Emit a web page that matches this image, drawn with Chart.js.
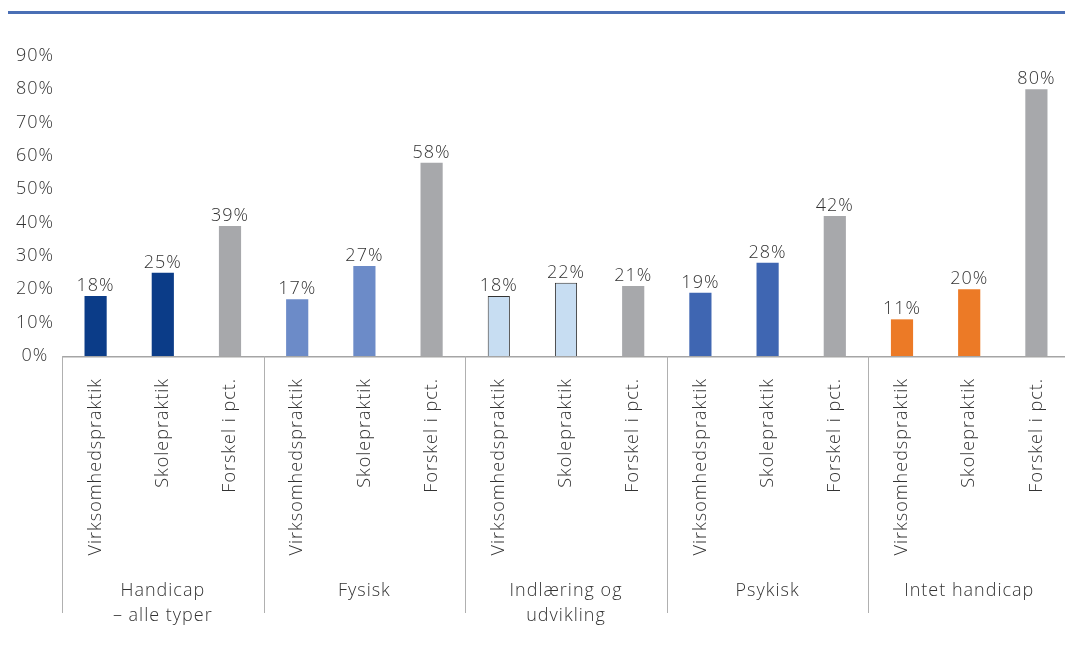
<!DOCTYPE html>
<html>
<head>
<meta charset="utf-8">
<script src="https://cdn.jsdelivr.net/npm/chart.js@4.4.1/dist/chart.umd.min.js"></script>
<style>
  html, body { margin: 0; padding: 0; background: #fff; overflow: hidden; }
  #wrap { position: relative; width: 1082px; height: 648px; }
  #topline { position: absolute; left: 8px; top: 11px; width: 1074px; height: 3px; background: #4A6FB5; }
  canvas { position: absolute; left: 0; top: 0; }
</style>
</head>
<body>
<div id="wrap">
  <div id="topline"></div>
  <canvas id="c" width="1082" height="648"></canvas>
</div>
<script>
const categories = [
  "Virksomhedspraktik", "Skolepraktik", "Forskel i pct.",
  "Virksomhedspraktik", "Skolepraktik", "Forskel i pct.",
  "Virksomhedspraktik", "Skolepraktik", "Forskel i pct.",
  "Virksomhedspraktik", "Skolepraktik", "Forskel i pct.",
  "Virksomhedspraktik", "Skolepraktik", "Forskel i pct."
];
const groups = [
  ["Handicap", "– alle typer"],
  ["Fysisk"],
  ["Indlæring og", "udvikling"],
  ["Psykisk"],
  ["Intet handicap"]
];
const values = [18, 25, 39, 17, 27, 58, 18, 22, 21, 19, 28, 42, 11, 20, 80];
const yTicks = [0, 10, 20, 30, 40, 50, 60, 70, 80, 90];

const groupColors = ["#0B3C88", "#6C8BC8", "#C7DDF2", "#3F66B2", "#EC7A26"];
const grey = "#A7A8AB";
const barColors = values.map((v, i) => (i % 3 === 2) ? grey : groupColors[Math.floor(i / 3)]);
const borderColors = values.map((v, i) => (Math.floor(i / 3) === 2 && i % 3 !== 2) ? "#333333" : "rgba(0,0,0,0)");
const borderWidths = values.map((v, i) => (Math.floor(i / 3) === 2 && i % 3 !== 2) ? 1 : 0);

const FONT = "'Open Sans', 'DejaVu Sans', sans-serif";
const WEIGHT = 300;
const TXT = "#333333";
const SPACING = "1px";

const spacing = {
  id: "spacing",
  beforeLayout(chart) { chart.ctx.letterSpacing = SPACING; },
  beforeDraw(chart) { chart.ctx.letterSpacing = SPACING; }
};

const overlay = {
  id: "overlay",
  afterDatasetsDraw(chart) {
    const ctx = chart.ctx;
    const area = chart.chartArea;
    const xs = chart.scales.x;
    const meta = chart.getDatasetMeta(0);
    ctx.save();
    ctx.letterSpacing = SPACING;
    ctx.font = WEIGHT + " 18px " + FONT;
    ctx.fillStyle = TXT;
    ctx.textAlign = "center";
    ctx.textBaseline = "alphabetic";
    meta.data.forEach((bar, i) => {
      ctx.fillText(values[i] + "%", bar.x, bar.y - 5);
    });
    ctx.strokeStyle = "#A5A5A5";
    ctx.lineWidth = 1.5;
    ctx.beginPath();
    ctx.moveTo(area.left, area.bottom + 0.75);
    ctx.lineTo(area.right, area.bottom + 0.75);
    ctx.stroke();
    const slot = (xs.getPixelForValue(1) - xs.getPixelForValue(0));
    ctx.lineWidth = 1;
    ctx.strokeStyle = "#B0B0B0";
    groups.forEach((g, gi) => {
      const left = xs.getPixelForValue(gi * 3) - slot / 2;
      const xl = Math.round(left) + 0.5;
      ctx.beginPath();
      ctx.moveTo(xl, area.bottom);
      ctx.lineTo(xl, 613);
      ctx.stroke();
      const cx = xs.getPixelForValue(gi * 3 + 1);
      ctx.textBaseline = "middle";
      g.forEach((line, li) => {
        ctx.fillText(line, cx, 591 + li * 25);
      });
    });
    ctx.restore();
  }
};

new Chart(document.getElementById("c"), {
  type: "bar",
  data: {
    labels: categories,
    datasets: [{
      data: values,
      backgroundColor: barColors,
      borderColor: borderColors,
      borderWidth: borderWidths,
      borderSkipped: "bottom",
      barPercentage: 0.66,
      categoryPercentage: 0.5
    }]
  },
  options: {
    responsive: false,
    animation: false,
    layout: { padding: { top: 56, left: 0, right: 12, bottom: 0 } },
    plugins: { legend: { display: false }, tooltip: { enabled: false } },
    scales: {
      x: {
        grid: { display: false },
        border: { display: false },
        ticks: {
          autoSkip: false,
          maxRotation: 90,
          minRotation: 90,
          padding: 14,
          color: TXT,
          font: { family: FONT, size: 18, weight: WEIGHT }
        },
        afterFit(scale) { scale.height = 292; }
      },
      y: {
        min: 0,
        max: 90,
        grid: { display: false, drawTicks: false },
        border: { display: false },
        afterBuildTicks(scale) { scale.ticks = yTicks.map(v => ({ value: v })); },
        ticks: {
          crossAlign: "center",
          padding: 8,
          color: TXT,
          font: { family: FONT, size: 18, weight: WEIGHT },
          callback: (v) => v + "%"
        },
        afterFit(scale) { scale.width = 62; }
      }
    }
  },
  plugins: [spacing, overlay]
});
</script>
</body>
</html>
